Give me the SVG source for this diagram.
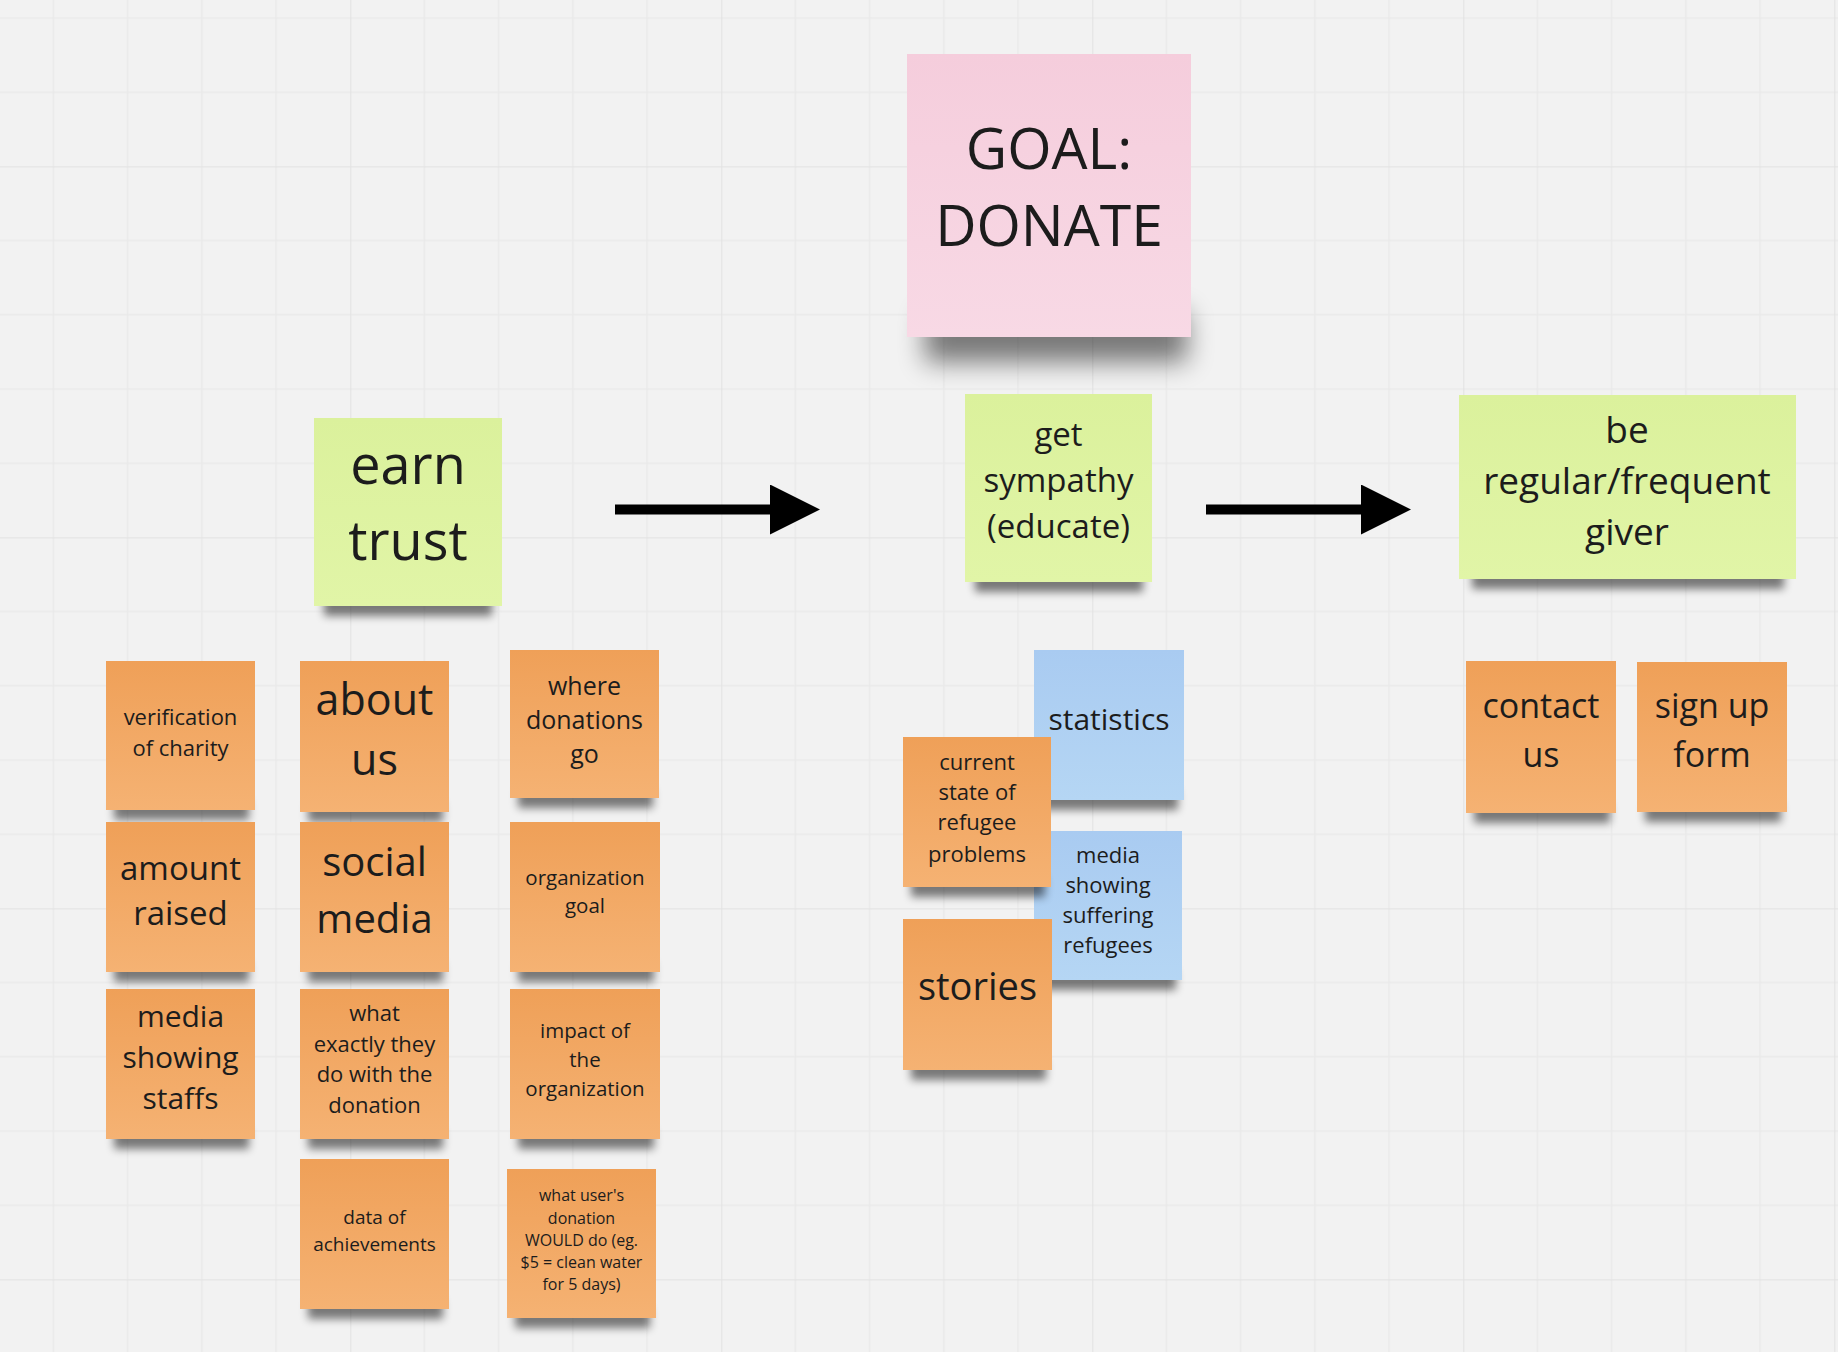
<svg xmlns="http://www.w3.org/2000/svg" width="1838" height="1352" viewBox="0 0 1838 1352">
  <defs>
    <!-- board grid: minor cells every 74.2px, major every 371px -->
    <pattern id="grid" patternUnits="userSpaceOnUse" x="-20.7" y="-204.6" width="371" height="371">
      <rect width="371" height="371" fill="#f2f2f2"/>
      <g stroke="#e9e9e9" stroke-width="1.3">
        <line x1="74.2" y1="0" x2="74.2" y2="371"/>
        <line x1="148.4" y1="0" x2="148.4" y2="371"/>
        <line x1="222.6" y1="0" x2="222.6" y2="371"/>
        <line x1="296.8" y1="0" x2="296.8" y2="371"/>
        <line x1="0" y1="74.2" x2="371" y2="74.2"/>
        <line x1="0" y1="148.4" x2="371" y2="148.4"/>
        <line x1="0" y1="222.6" x2="371" y2="222.6"/>
        <line x1="0" y1="296.8" x2="371" y2="296.8"/>
      </g>
      <g stroke="#e2e2e2" stroke-width="2">
        <line x1="0" y1="0" x2="0" y2="371"/>
        <line x1="0" y1="0" x2="371" y2="0"/>
      </g>
    </pattern>
    <linearGradient id="orange" x1="0" y1="0" x2="0" y2="1">
      <stop offset="0" stop-color="#efa058"/>
      <stop offset="1" stop-color="#f5b273"/>
    </linearGradient>
    <linearGradient id="green" x1="0" y1="0" x2="0" y2="1">
      <stop offset="0" stop-color="#dbf19c"/>
      <stop offset="1" stop-color="#e1f5a7"/>
    </linearGradient>
    <linearGradient id="pink" x1="0" y1="0" x2="0" y2="1">
      <stop offset="0" stop-color="#f5cddc"/>
      <stop offset="1" stop-color="#f8d9e5"/>
    </linearGradient>
    <linearGradient id="blue" x1="0" y1="0" x2="0" y2="1">
      <stop offset="0" stop-color="#a9cbf1"/>
      <stop offset="1" stop-color="#b5d6f4"/>
    </linearGradient>
    <filter id="soft" x="-20%" y="-100%" width="140%" height="300%">
      <feGaussianBlur stdDeviation="4.5"/>
    </filter>
    <filter id="softBig" x="-20%" y="-100%" width="140%" height="300%">
      <feGaussianBlur stdDeviation="13"/>
    </filter>
    <marker id="head" markerUnits="userSpaceOnUse" markerWidth="52" markerHeight="52" refX="0" refY="25" orient="auto" viewBox="0 0 52 52">
      <path d="M0,0 L50,25 L0,50 Z" fill="#000"/>
    </marker>
  </defs>
  <style>
    text { font-family: "Open Sans", "Noto Sans", "Liberation Sans", sans-serif; fill: #1c1c1c; text-anchor: middle; }
    .sh { fill: #000; opacity: 0.5; filter: url(#soft); }
    .shBig { fill: #000; opacity: 0.5; filter: url(#softBig); }
    .o { fill: url(#orange); }
    .g { fill: url(#green); }
    .p { fill: url(#pink); }
    .b { fill: url(#blue); }
    .conn { stroke: #000; stroke-width: 10; fill: none; marker-end: url(#head); }
  </style>

  <rect width="1838" height="1352" fill="url(#grid)"/>

  <!-- goal -->
  <g id="goal-donate">
    <rect class="shBig" x="925" y="312" width="262" height="50"/>
    <rect class="p" x="907" y="54" width="284" height="283"/>
    <text font-size="57"><tspan x="1049" y="169">GOAL:</tspan><tspan x="1049" y="246">DONATE</tspan></text>
  </g>

  <!-- stage notes -->
  <g id="earn-trust">
    <rect class="sh" x="324" y="596" width="168" height="20"/>
    <rect class="g" x="314" y="418" width="188" height="188"/>
    <text font-size="54"><tspan x="408" y="484">earn</tspan><tspan x="408" y="560">trust</tspan></text>
  </g>
  <g id="get-sympathy">
    <rect class="sh" x="975" y="572" width="168" height="20"/>
    <rect class="g" x="965" y="394" width="187" height="188"/>
    <text font-size="33"><tspan x="1058.5" y="445.5">get</tspan><tspan x="1058.5" y="491.5">sympathy</tspan><tspan x="1058.5" y="537.5">(educate)</tspan></text>
  </g>
  <g id="regular-giver">
    <rect class="sh" x="1472" y="569" width="312" height="20"/>
    <rect class="g" x="1459" y="395" width="337" height="184"/>
    <text font-size="37"><tspan x="1627" y="443">be</tspan><tspan x="1627" y="494">regular/frequent</tspan><tspan x="1627" y="545">giver</tspan></text>
  </g>

  <!-- connectors between stages -->
  <g id="connectors">
    <line class="conn" x1="615" y1="509.5" x2="770" y2="509.5"/>
    <line class="conn" x1="1206" y1="509.5" x2="1361" y2="509.5"/>
  </g>

  <!-- trust column ideas -->
  <g id="verification-of-charity">
    <rect class="sh" x="114" y="800" width="135" height="20"/>
    <rect class="o" x="106" y="661" width="149" height="149"/>
    <text font-size="22"><tspan x="180.5" y="725">verification</tspan><tspan x="180.5" y="756">of charity</tspan></text>
  </g>
  <g id="about-us">
    <rect class="sh" x="308" y="802" width="135" height="20"/>
    <rect class="o" x="300" y="661" width="149" height="151"/>
    <text font-size="43"><tspan x="374.5" y="715">about</tspan><tspan x="374.5" y="775">us</tspan></text>
  </g>
  <g id="where-donations-go">
    <rect class="sh" x="518" y="788" width="135" height="20"/>
    <rect class="o" x="510" y="650" width="149" height="148"/>
    <text font-size="25"><tspan x="584.5" y="694.5">where</tspan><tspan x="584.5" y="728.5">donations</tspan><tspan x="584.5" y="762.5">go</tspan></text>
  </g>
  <g id="amount-raised">
    <rect class="sh" x="114" y="962" width="135" height="20"/>
    <rect class="o" x="106" y="822" width="149" height="150"/>
    <text font-size="33"><tspan x="180.5" y="879.5">amount</tspan><tspan x="180.5" y="925">raised</tspan></text>
  </g>
  <g id="social-media">
    <rect class="sh" x="308" y="962" width="135" height="20"/>
    <rect class="o" x="300" y="822" width="149" height="150"/>
    <text font-size="40"><tspan x="374.5" y="876">social</tspan><tspan x="374.5" y="933">media</tspan></text>
  </g>
  <g id="organization-goal">
    <rect class="sh" x="518" y="962" width="136" height="20"/>
    <rect class="o" x="510" y="822" width="150" height="150"/>
    <text font-size="20.5"><tspan x="585" y="885">organization</tspan><tspan x="585" y="913">goal</tspan></text>
  </g>
  <g id="media-showing-staffs">
    <rect class="sh" x="114" y="1129" width="135" height="20"/>
    <rect class="o" x="106" y="989" width="149" height="150"/>
    <text font-size="30"><tspan x="180.5" y="1027">media</tspan><tspan x="180.5" y="1068">showing</tspan><tspan x="180.5" y="1109">staffs</tspan></text>
  </g>
  <g id="what-they-do">
    <rect class="sh" x="308" y="1129" width="135" height="20"/>
    <rect class="o" x="300" y="989" width="149" height="150"/>
    <text font-size="22"><tspan x="374.5" y="1021">what</tspan><tspan x="374.5" y="1051.5">exactly they</tspan><tspan x="374.5" y="1082">do with the</tspan><tspan x="374.5" y="1112.5">donation</tspan></text>
  </g>
  <g id="impact-of-organization">
    <rect class="sh" x="518" y="1129" width="136" height="20"/>
    <rect class="o" x="510" y="989" width="150" height="150"/>
    <text font-size="20.5"><tspan x="585" y="1037.5">impact of</tspan><tspan x="585" y="1066.5">the</tspan><tspan x="585" y="1095.5">organization</tspan></text>
  </g>
  <g id="data-of-achievements">
    <rect class="sh" x="308" y="1299" width="135" height="20"/>
    <rect class="o" x="300" y="1159" width="149" height="150"/>
    <text font-size="19"><tspan x="374.5" y="1223.5">data of</tspan><tspan x="374.5" y="1250.5">achievements</tspan></text>
  </g>
  <g id="what-donation-would-do">
    <rect class="sh" x="515" y="1308" width="135" height="20"/>
    <rect class="o" x="507" y="1169" width="149" height="149"/>
    <text font-size="16"><tspan x="581.5" y="1201">what user's</tspan><tspan x="581.5" y="1223.5">donation</tspan><tspan x="581.5" y="1246">WOULD do (eg.</tspan><tspan x="581.5" y="1268">$5 = clean water</tspan><tspan x="581.5" y="1290">for 5 days)</tspan></text>
  </g>

  <!-- sympathy column ideas -->
  <g id="statistics">
    <rect class="sh" x="1042" y="790" width="136" height="20"/>
    <rect class="b" x="1034" y="650" width="150" height="150"/>
    <text font-size="30"><tspan x="1109" y="730">statistics</tspan></text>
  </g>
  <g id="media-suffering-refugees">
    <rect class="sh" x="1042" y="970" width="134" height="20"/>
    <rect class="b" x="1034" y="831" width="148" height="149"/>
    <text font-size="22"><tspan x="1108" y="863">media</tspan><tspan x="1108" y="893">showing</tspan><tspan x="1108" y="923">suffering</tspan><tspan x="1108" y="953">refugees</tspan></text>
  </g>
  <g id="current-state">
    <rect class="sh" x="911" y="877" width="134" height="20"/>
    <rect class="o" x="903" y="737" width="148" height="150"/>
    <text font-size="22"><tspan x="977" y="770">current</tspan><tspan x="977" y="800">state of</tspan><tspan x="977" y="830">refugee</tspan><tspan x="977" y="861.5">problems</tspan></text>
  </g>
  <g id="stories">
    <rect class="sh" x="911" y="1060" width="135" height="20"/>
    <rect class="o" x="903" y="919" width="149" height="151"/>
    <text font-size="38"><tspan x="977.5" y="1000">stories</tspan></text>
  </g>

  <!-- giver column ideas -->
  <g id="contact-us">
    <rect class="sh" x="1474" y="803" width="136" height="20"/>
    <rect class="o" x="1466" y="661" width="150" height="152"/>
    <text font-size="34"><tspan x="1541" y="718">contact</tspan><tspan x="1541" y="766.5">us</tspan></text>
  </g>
  <g id="sign-up-form">
    <rect class="sh" x="1645" y="802" width="136" height="20"/>
    <rect class="o" x="1637" y="662" width="150" height="150"/>
    <text font-size="34"><tspan x="1712" y="718">sign up</tspan><tspan x="1712" y="766.5">form</tspan></text>
  </g>
</svg>
